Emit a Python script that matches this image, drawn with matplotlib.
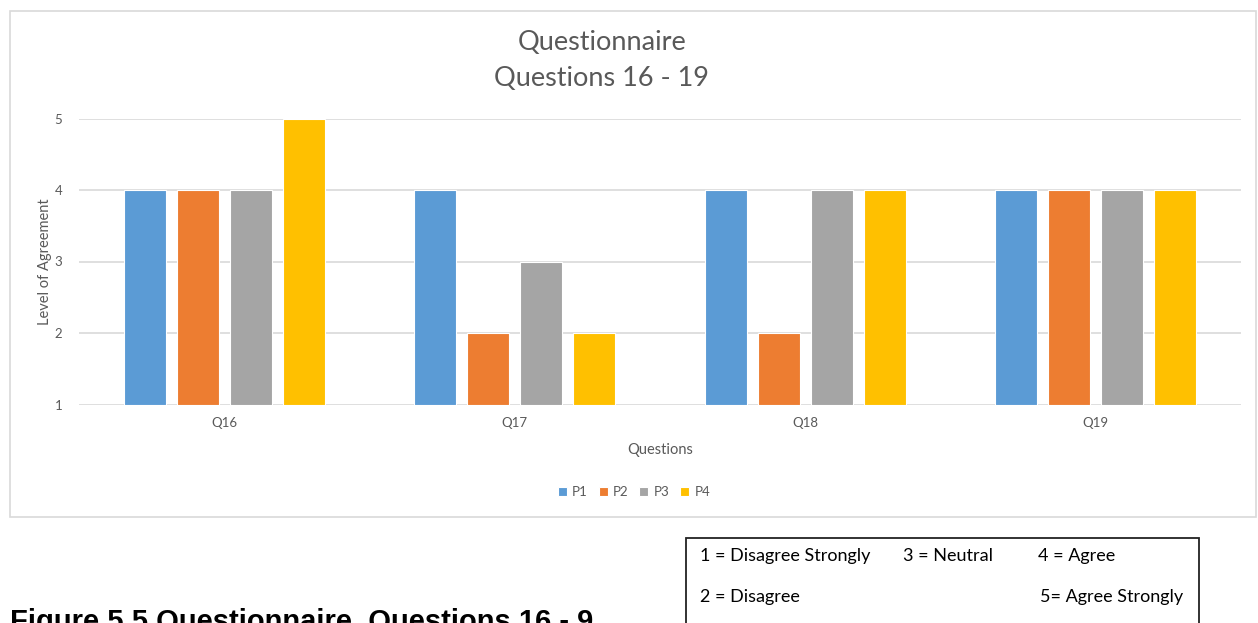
import numpy as np
import matplotlib
matplotlib.use("Agg")
import matplotlib.pyplot as plt
from matplotlib.patches import Rectangle

# --------------------------
# Dane
# --------------------------
questions = ["Q16", "Q17", "Q18", "Q19"]
participants = ["P1", "P2", "P3", "P4"]
p1 = [4, 4, 4, 4]
p2 = [4, 2, 2, 4]
p3 = [4, 3, 4, 4]
p4 = [5, 2, 4, 4]
y_ticks = [1, 2, 3, 4, 5]

colors = ["#5B9BD5", "#ED7D31", "#A5A5A5", "#FFC000"]
txt = "#595959"
grid = "#D9D9D9"
font = ["Lato", "DejaVu Sans"]

W, H = 1258, 623
fig = plt.figure(figsize=(W / 100, H / 100), dpi=100)
fig.patch.set_facecolor("white")

# ramka wykresu (Excel)
fig.patches.append(Rectangle((10 / W, 1 - 517 / H), 1246 / W, 506 / H,
                             transform=fig.transFigure, fill=False,
                             edgecolor=grid, linewidth=1.2))

ax = fig.add_axes([79 / W, 1 - 404.5 / H, 1162 / W, 286 / H])
x = np.arange(len(questions))
step = 0.1824
width = 0.1446
for i, (vals, c) in enumerate(zip([p1, p2, p3, p4], colors)):
    vals = np.array(vals)
    ax.bar(x + (i - 1.5) * step, vals - 1, bottom=1, width=width, color=c,
           edgecolor="white", linewidth=0.8, label=participants[i], zorder=3)

ax.set_xlim(-0.5, len(questions) - 0.5)
ax.set_ylim(1, 5)
ax.set_yticks(y_ticks)
ax.set_xticks(x)
ax.set_xticklabels(questions)
for s in ax.spines.values():
    s.set_visible(False)
ax.yaxis.grid(True, color=grid, linewidth=1.2, zorder=0)
ax.tick_params(axis="both", length=0, colors=txt, labelsize=9.5)
ax.tick_params(axis="y", pad=12)
ax.tick_params(axis="x", pad=9)
for lab in ax.get_xticklabels() + ax.get_yticklabels():
    lab.set_family(font)

ax.set_ylabel("Level of Agreement", color=txt, fontsize=10.5, family=font, labelpad=2)
ax.set_xlabel("Questions", color=txt, fontsize=10.5, family=font, labelpad=10)

fig.text(602 / W, 1 - 42 / H, "Questionnaire", ha="center", va="center",
         fontsize=19.5, color=txt, family=font)
fig.text(602 / W, 1 - 78 / H, "Questions 16 - 19", ha="center", va="center",
         fontsize=19.5, color=txt, family=font)

leg = fig.legend(loc="center", bbox_to_anchor=(634 / W, 1 - 492 / H), ncol=4,
                 frameon=False, handlelength=0.7, handleheight=0.7,
                 handletextpad=0.4, columnspacing=0.8,
                 prop={"family": font, "size": 9.5})
for t in leg.get_texts():
    t.set_color(txt)

# podpis pod wykresem (w oryginale przycięty dolną krawędzią)
fig.text(10 / W, 1 - 630 / H, "Figure 5.5 Questionnaire, Questions 16 - 9",
         ha="left", va="baseline", fontsize=21, fontweight="bold",
         family="Liberation Sans", color="black")

# ramka z opisem skali
fig.patches.append(Rectangle((686 / W, 1 - 650 / H), 513 / W, 112 / H,
                             transform=fig.transFigure, fill=False,
                             edgecolor="#222222", linewidth=1.3))
scale_items = [
    (700, 556, "1 = Disagree Strongly"),
    (903, 556, "3 = Neutral"),
    (1038, 556, "4 = Agree"),
    (700, 597, "2 = Disagree"),
    (1040, 597, "5= Agree Strongly"),
]
for px, py, s in scale_items:
    fig.text(px / W, 1 - py / H, s, ha="left", va="center", fontsize=13,
             color="black", family=font)

fig.savefig("out.png", dpi=100)
